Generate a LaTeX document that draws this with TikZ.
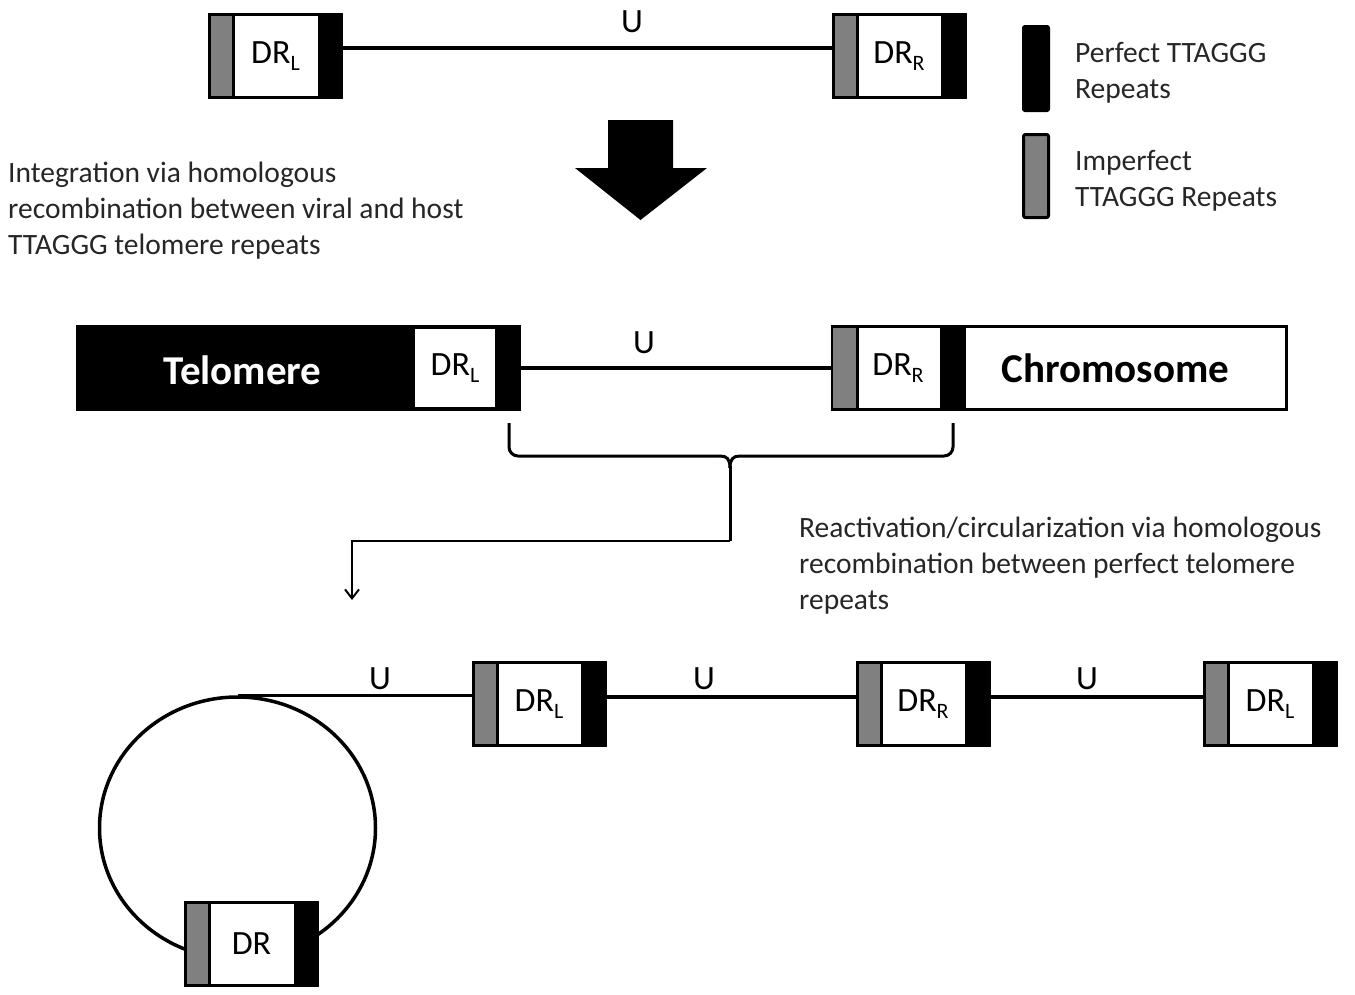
\documentclass[tikz,border=0pt]{standalone}
\usepackage{fontspec}
\setmainfont{Carlito}
\usetikzlibrary{shapes.geometric,arrows.meta}
\definecolor{rgray}{RGB}{128,128,128}
\newcommand{\lowsub}[1]{\raisebox{-7pt}{\fontsize{22}{22}\selectfont #1}}
\begin{document}
\begin{tikzpicture}[x=1pt,y=-1pt,
  conn/.style={line width=3.5pt},
  drbox/.style={draw, line width=3pt, fill=white, minimum width=132pt, minimum height=83pt,
    inner sep=0pt, font=\fontsize{34}{34}\selectfont,
    path picture={
      \fill[rgray] (path picture bounding box.south west) rectangle ([xshift=24pt]path picture bounding box.north west);
      \draw[line width=3pt] ([xshift=24pt]path picture bounding box.south west) -- ([xshift=24pt]path picture bounding box.north west);
      \fill[black] ([xshift=-24pt]path picture bounding box.south east) rectangle (path picture bounding box.north east);
    }},
  ulabel/.style={font=\fontsize{34}{34}\selectfont, inner sep=0pt},
  body/.style={font=\fontsize{29.5}{36}\selectfont, align=left, inner sep=0pt, text=black!85},
  bigtext/.style={font=\fontsize{41}{41}\selectfont\bfseries, inner sep=0pt}
]
\useasboundingbox (0,0) rectangle (1355,994);

% ---- top row
\node[drbox] (tl) at (275.5,56) {DR\lowsub{L}};
\node[drbox] (tr) at (899,56) {DR\lowsub{R}};
\draw[conn] ([yshift=8pt]tl.east) -- ([yshift=8pt]tr.west);
\node[ulabel] (u1) at (632,22) {U};

% ---- legend
\node[draw, line width=2pt, fill=black, rounded corners=2pt, minimum width=26pt, minimum height=85pt, inner sep=0pt] (legp) at (1036,68.5) {};
\node[draw, line width=3pt, fill=rgray, rounded corners=2pt, minimum width=25pt, minimum height=83pt, inner sep=0pt] (legi) at (1036,176) {};
\node[body, anchor=base west] (legpt) at (1075,98) {Perfect TTAGGG\\Repeats};
\node[body, anchor=base west] (legit) at (1075,206) {Imperfect\\TTAGGG Repeats};

% ---- big arrow
\fill (608,120) -- (673,120) -- (673,168) -- (707,168) -- (640.5,220) -- (575,168) -- (608,168) -- cycle;

\node[body, anchor=base west] (txt1) at (8,254) {Integration via homologous\\recombination between viral and host\\TTAGGG telomere repeats};

% ---- middle row
\node[draw, line width=3pt, fill=black, minimum width=442pt, minimum height=83pt, inner sep=0pt] (telo) at (298.5,368) {};
\fill[white] (415,329) rectangle (495,407);
\node[ulabel] (drl2) at (455,368) {DR\lowsub{L}};
\node[bigtext, text=white] (telot) at (242.5,370) {Telomere};

\node[draw, line width=3pt, fill=white, minimum width=454pt, minimum height=83pt, inner sep=0pt] (chrom) at (1059.5,368) {};
\fill[rgray] (833,328) rectangle (856,408);
\draw[line width=3pt] (857,327) -- (857,409);
\fill[black] (940,327) rectangle (966,409);
\node[ulabel] (drr2) at (898,368) {DR\lowsub{R}};
\node[bigtext] (chromt) at (1115.5,368) {Chromosome};

\draw[conn] (telo.east) -- (chrom.west);
\node[ulabel] (u2) at (644,343) {U};

% ---- brace
\coordinate (bl) at (509,423);
\coordinate (br) at (953,423);
\coordinate (bm) at (730,541);
\coordinate (ae) at (352,600);
\draw[line width=3pt, rounded corners=9pt] (bl) -- (509,456) -- (720,456);
\draw[line width=3pt] (720,456) .. controls (727,456) and (730,459) .. (730,468);
\draw[line width=3pt, rounded corners=9pt] (br) -- (953,456) -- (740,456);
\draw[line width=3pt] (740,456) .. controls (733,456) and (730,459) .. (730,468);
\draw[line width=3pt] (730,466) -- (bm);
\draw[line width=2.5pt, -{Straight Barb[length=9pt,width=14pt,line width=2pt]}] (bm) -- (352,541) -- (ae);

\node[body, anchor=base west] (txt2) at (799,609) {Reactivation/circularization via homologous\\recombination between perfect telomere\\repeats};

% ---- bottom row
\node[draw, conn, ellipse, minimum width=276pt, minimum height=262pt, inner sep=0pt] (circ) at (237.5,828) {};
\node[drbox] (b0) at (251.5,943.5) {DR};
\node[drbox] (b1) at (539,704) {DR\lowsub{L}};
\node[drbox] (b2) at (923,704) {DR\lowsub{R}};
\node[drbox] (b3) at (1270,704) {DR\lowsub{L}};
\draw[conn] (circ.north) -- (circ.north -| b1.west);
\draw[conn] ([yshift=7pt]b1.east) -- ([yshift=7pt]b2.west);
\draw[conn] ([yshift=7pt]b2.east) -- ([yshift=7pt]b3.west);
\node[ulabel] (u3) at (380,679) {U};
\node[ulabel] (u4) at (704,679) {U};
\node[ulabel] (u5) at (1087,679) {U};
\end{tikzpicture}
\end{document}
